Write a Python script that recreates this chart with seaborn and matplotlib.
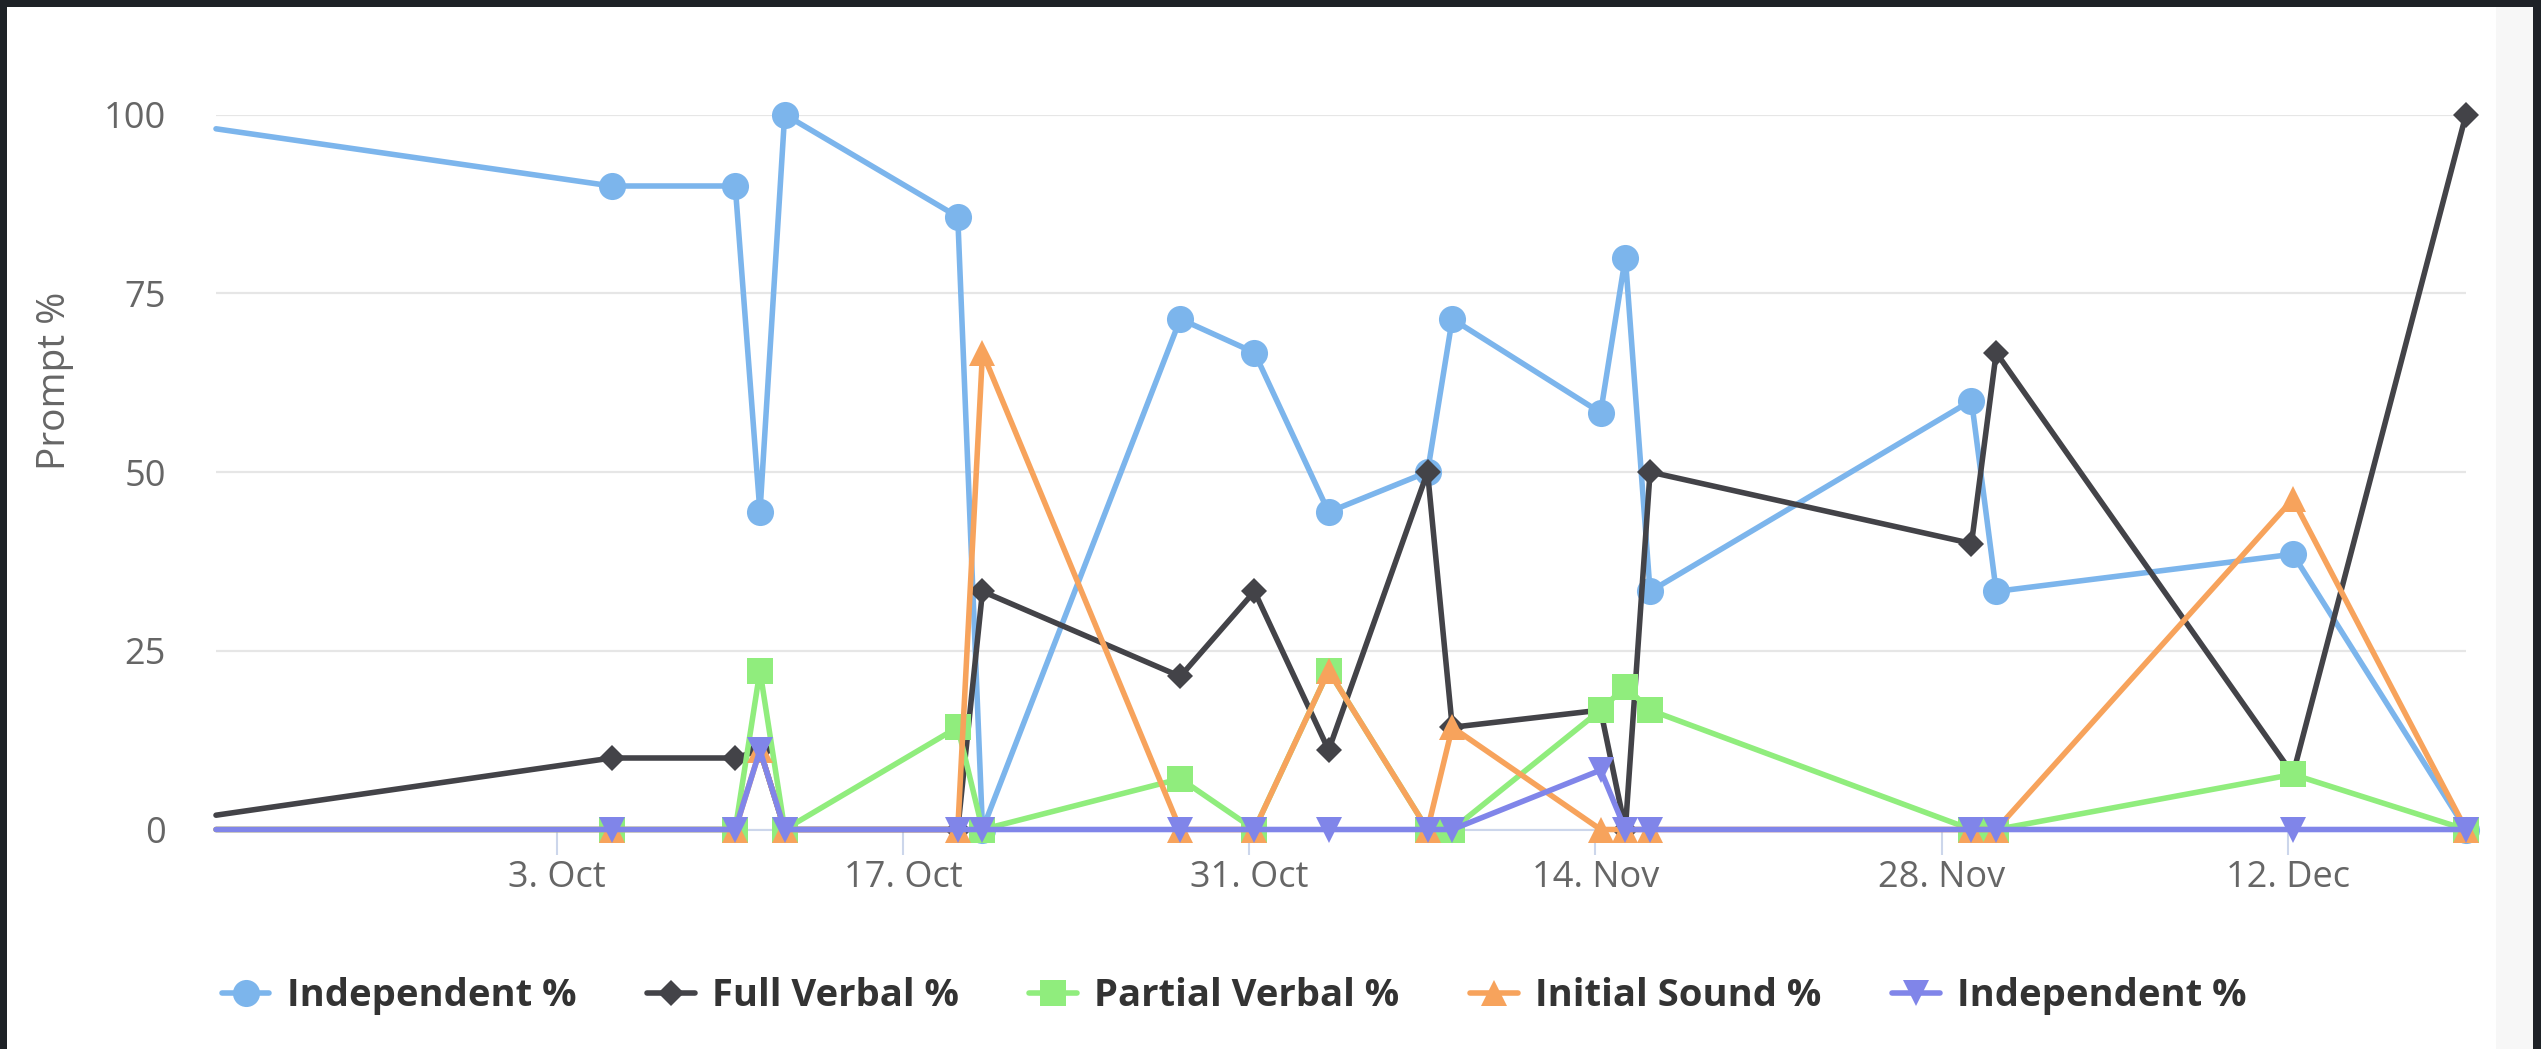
import matplotlib
matplotlib.use("Agg")
import matplotlib.pyplot as plt
from matplotlib.lines import Line2D
from matplotlib.patches import Rectangle
import seaborn as sns
import pandas as pd

# ---------------- data ----------------
dates = ["2023-09-19 05:00", "2023-10-05 05:00", "2023-10-10 05:00", "2023-10-11 05:00",
         "2023-10-12 05:00", "2023-10-19 05:00", "2023-10-20 05:00", "2023-10-28 05:00",
         "2023-10-31 05:00", "2023-11-03 05:00", "2023-11-07 05:00", "2023-11-08 05:00",
         "2023-11-14 05:00", "2023-11-15 05:00", "2023-11-16 05:00", "2023-11-29 05:00",
         "2023-11-30 05:00", "2023-12-12 05:00", "2023-12-19 05:00"]
independent = [98, 90, 90, 44.4, 100, 85.7, 0, 71.4, 66.7, 44.4, 50, 71.4, 58.3, 80, 33.3, 60, 33.3, 38.5, 0]
full_verbal = [2, 10, 10, 11.1, 0, 0, 33.3, 21.4, 33.3, 11.1, 50, 14.3, 16.7, 0, 50, 40, 66.7, 7.7, 100]
partial_verbal = [0, 0, 0, 22.2, 0, 14.3, 0, 7.1, 0, 22.2, 0, 0, 16.7, 20, 16.7, 0, 0, 7.7, 0]
initial_sound = [0, 0, 0, 11.1, 0, 0, 66.7, 0, 0, 22.2, 0, 14.3, 0, 0, 0, 0, 0, 46.2, 0]
independent_2 = [0, 0, 0, 11.1, 0, 0, 0, 0, 0, 0, 0, 0, 8.3, 0, 0, 0, 0, 0, 0]

series_names = ["Independent %", "Full Verbal %", "Partial Verbal %", "Initial Sound %", "Independent %"]
tick_dates = ["2023-10-03", "2023-10-17", "2023-10-31", "2023-11-14", "2023-11-28", "2023-12-12"]
tick_labels = ["3. Oct", "17. Oct", "31. Oct", "14. Nov", "28. Nov", "12. Dec"]
y_ticks = [0, 25, 50, 75, 100]
y_title = "Prompt %"

# ---------------- styling ----------------
colors = ["#7cb5ec", "#434348", "#90ed7d", "#f7a35c", "#8085e9"]
markers = ["o", "D", "s", "^", "v"]
msizes = [19.5, 13, 18.5, 18.5, 18.5]
lw = 4.0

sns.set_theme(style="white")
plt.rcParams["font.family"] = ["Open Sans", "DejaVu Sans"]

W, H = 2541, 1049
fig = plt.figure(figsize=(W / 100, H / 100), dpi=100)
fig.patch.set_facecolor("#1e2227")
fig.add_artist(Rectangle((7 / W, 0), (2496 - 7) / W, 1 - 7 / H, transform=fig.transFigure,
                         facecolor="white", edgecolor="none", zorder=0))
fig.add_artist(Rectangle((2496 / W, 0), (2533 - 2496) / W, 1 - 7 / H, transform=fig.transFigure,
                         facecolor="#f7f7f7", edgecolor="none", zorder=0))

left, right, top, bottom = 216, 2466, 114.5, 829.5
ax = fig.add_axes([left / W, 1 - bottom / H, (right - left) / W, (bottom - top) / H])
ax.set_facecolor("none")

x = pd.to_datetime(pd.Series(dates))
all_series = [independent, full_verbal, partial_verbal, initial_sound, independent_2]
handles = []
for i, vals in enumerate(all_series):
    df = pd.DataFrame({"date": x, "value": vals})
    sns.lineplot(data=df, x="date", y="value", ax=ax, color=colors[i], marker=markers[i],
                 markersize=msizes[i], linewidth=lw, markeredgewidth=0,
                 markevery=list(range(1, len(dates))), clip_on=False, zorder=3 + i,
                 legend=False, sort=False)
    handles.append(Line2D([], [], color=colors[i], marker=markers[i], markersize=msizes[i],
                          linewidth=lw, markeredgewidth=0))

ax.set_xlim(x.min(), x.max())
ax.set_ylim(0, 100)
ax.set_yticks(y_ticks)
ax.set_yticklabels([str(v) for v in y_ticks])
ax.set_xticks(pd.to_datetime(pd.Series(tick_dates)))
ax.set_xticklabels(tick_labels)
ax.grid(axis="y", color="#e6e6e6", linewidth=1.6)
ax.grid(axis="x", visible=False)
ax.set_axisbelow(True)
for s in ["left", "right", "top"]:
    ax.spines[s].set_visible(False)
ax.spines["bottom"].set_color("#ccd6eb")
ax.spines["bottom"].set_linewidth(1.5)
ax.tick_params(axis="y", length=0, pad=36, labelsize=26, labelcolor="#666666")
ax.tick_params(axis="x", length=18, width=1.5, color="#ccd6eb", pad=4, labelsize=26,
               labelcolor="#666666", direction="out", bottom=True)
ax.set_xlabel("")
ax.set_ylabel("")

fig.text(54.5 / W, 1 - 381 / H, y_title, rotation=90, ha="center", va="center",
         fontsize=28, color="#666666")

leg = fig.legend(handles, series_names, loc="center", bbox_to_anchor=(1234 / W, 1 - 996 / H),
                 ncol=5, frameon=False, handlelength=1.25, handletextpad=0.45,
                 columnspacing=1.85, prop={"size": 27.5, "weight": "bold"})
for t in leg.get_texts():
    t.set_color("#333333")

fig.savefig("out.png", dpi=100, facecolor=fig.get_facecolor())
